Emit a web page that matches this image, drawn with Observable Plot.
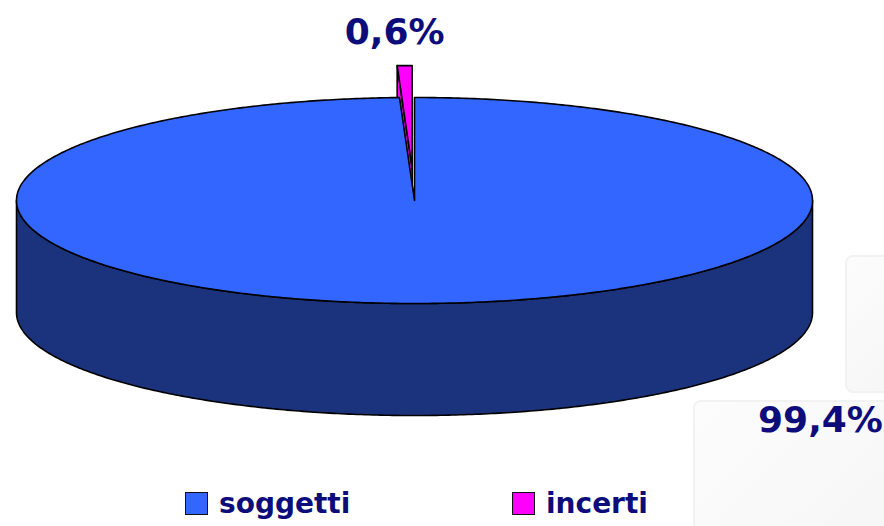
<!DOCTYPE html>
<html>
<head>
<meta charset="utf-8">
<script src="https://cdn.jsdelivr.net/npm/d3@7"></script>
<script src="https://cdn.jsdelivr.net/npm/@observablehq/plot@0.6"></script>
<style>
  html, body { margin: 0; padding: 0; background: #fff; }
  #wrap { position: relative; width: 884px; height: 526px; overflow: hidden; font-family: "DejaVu Sans", sans-serif; }
  .bgbox { position: absolute; border-radius: 8px; border: 2px solid #f2f2f2; background: linear-gradient(135deg, #fcfcfc, #f6f6f6); }
  #chart { position: absolute; left: 0; top: 0; }
  #legend { position: absolute; left: 0; top: 478px; width: 884px; height: 48px; }
  .sw { position: absolute; width: 21px; height: 21px; border: 1.5px solid #111; top: 14px; }
  .lt { position: absolute; top: 10px; font-size: 28px; font-weight: bold; color: #0c0c7a; line-height: 32px; }
</style>
</head>
<body>
<div id="wrap">
  <div class="bgbox" style="left:845px; top:255px; width:60px; height:134px;"></div>
  <div class="bgbox" style="left:693px; top:400px; width:210px; height:140px;"></div>
  <div id="chart"></div>
  <div id="legend"></div>
</div>
<script>
// ---- data ----
const categories = ["soggetti", "incerti"];
const values = [99.4, 0.6];
const valueLabels = ["99,4%", "0,6%"];
const colors = ["#3366FF", "#FF00FF"];
const sideColors = ["#1B337C", "#FF00FF"];

// ---- geometry ----
const W = 884, H = 478;
const cx = 414, cy = 200, rx = 398, ry = 103, depth = 112;
const explode = [0, 0.31];

const arcs = d3.pie().sort(null).value(d => d)(values);
const pt = (a, off, dz) => ({
  x: cx + off.dx + rx * Math.sin(a),
  y: cy + off.dy - ry * Math.cos(a) + (dz || 0)
});
function arcPts(a0, a1, off, dz) {
  const n = Math.max(2, Math.ceil(Math.abs(a1 - a0) / 0.01));
  return d3.range(n + 1).map(i => pt(a0 + (a1 - a0) * i / n, off, dz));
}
const slices = arcs.map((a, i) => {
  const mid = (a.startAngle + a.endAngle) / 2;
  const off = { dx: rx * explode[i] * Math.sin(mid), dy: -ry * explode[i] * Math.cos(mid) };
  const apex = { x: cx + off.dx, y: cy + off.dy };
  const top = [apex, ...arcPts(a.startAngle, a.endAngle, off), apex];
  const s0 = Math.max(a.startAngle, Math.PI / 2), s1 = Math.min(a.endAngle, 3 * Math.PI / 2);
  let side = null;
  if (s1 > s0) {
    const upper = arcPts(s0, s1, off);
    const lower = arcPts(s1, s0, off, depth);
    side = [...upper, ...lower, upper[0]];
  }
  const e = pt(a.startAngle, off);
  const wall = [apex, e, { x: e.x, y: e.y + depth }, { x: apex.x, y: apex.y + depth }, apex];
  return { i, off, apex, top, side, wall, mid };
});

const blue = slices[0], pink = slices[1];
const pinkTopArc = pt(pink.mid, pink.off);

const labelData = [
  { label: valueLabels[0], x: cx + rx + 8, y: cy + depth + 103 + 5 },
  { label: valueLabels[1], x: pinkTopArc.x - 10, y: pinkTopArc.y - 33 }
];

const marks = [];
const poly = (pts, fill) => Plot.line(pts, {
  x: "x", y: "y", fill, stroke: "#000", strokeWidth: 1.6, curve: "linear"
});
marks.push(poly(pink.wall, colors[1]));
marks.push(poly(pink.top, colors[1]));
if (blue.side) marks.push(poly(blue.side, sideColors[0]));
marks.push(poly(blue.top, colors[0]));
marks.push(Plot.text(labelData, {
  x: "x", y: "y", text: "label", fontSize: 36, fontWeight: "bold",
  fill: "#0c0c7a", textAnchor: "middle", fontFamily: "DejaVu Sans, sans-serif"
}));

const chart = Plot.plot({
  width: W, height: H,
  margin: 0,
  x: { domain: [0, W], range: [0, W], axis: null },
  y: { domain: [0, H], range: [0, H], axis: null },
  style: { background: "transparent", overflow: "visible" },
  marks
});
document.getElementById("chart").appendChild(chart);

// ---- legend ----
const legend = document.getElementById("legend");
const legendX = [185, 512];
categories.forEach((c, i) => {
  const sw = document.createElement("div");
  sw.className = "sw";
  sw.style.left = legendX[i] + "px";
  sw.style.background = colors[i];
  legend.appendChild(sw);
  const t = document.createElement("div");
  t.className = "lt";
  t.style.left = (legendX[i] + 34) + "px";
  t.textContent = c;
  legend.appendChild(t);
});
</script>
</body>
</html>
